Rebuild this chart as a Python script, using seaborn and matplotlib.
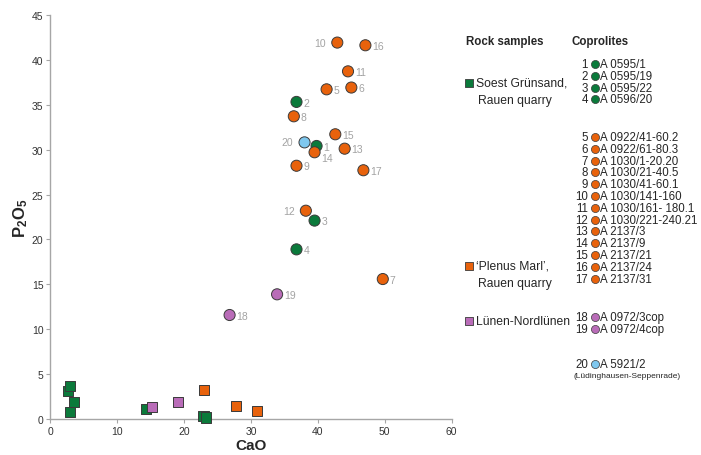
import matplotlib
matplotlib.use("Agg")
import matplotlib.pyplot as plt
import seaborn as sns
import pandas as pd

# ---------------- data ----------------
cop_ids = list(range(1, 21))
cop_cao = [39.8, 36.8, 39.5, 36.8, 41.3, 45.0, 49.7, 36.4, 36.8, 42.9,
           44.5, 38.2, 44.0, 39.5, 42.6, 47.1, 46.8, 26.8, 33.9, 38.0]
cop_p2o5 = [30.4, 35.3, 22.1, 18.9, 36.7, 36.9, 15.6, 33.7, 28.2, 41.9,
            38.7, 23.2, 30.1, 29.7, 31.7, 41.6, 27.7, 11.6, 13.9, 30.8]
cop_group = ["Soest"] * 4 + ["Plenus"] * 13 + ["Luenen"] * 2 + ["Luedinghausen"]
cop_names = ["A 0595/1", "A 0595/19", "A 0595/22", "A 0596/20",
             "A 0922/41-60.2", "A 0922/61-80.3", "A 1030/1-20.20", "A 1030/21-40.5",
             "A 1030/41-60.1", "A 1030/141-160", "A 1030/161- 180.1", "A 1030/221-240.21",
             "A 2137/3", "A 2137/9", "A 2137/21", "A 2137/24", "A 2137/31",
             "A 0972/3cop", "A 0972/4cop", "A 5921/2"]

rock_cao = [2.65, 2.9, 3.5, 3.0, 14.3, 22.9, 23.2, 15.2, 19.1, 23.0, 27.8, 30.9]
rock_p2o5 = [3.15, 3.7, 1.9, 0.85, 1.15, 0.4, 0.2, 1.4, 1.9, 3.25, 1.5, 0.95]
rock_group = ["Soest"] * 7 + ["Luenen"] * 2 + ["Plenus"] * 3

rock_legend = [("Soest", ["Soest Grünsand,", "Rauen quarry"]),
               ("Plenus", ["\u2018Plenus Marl\u2019,", "Rauen quarry"]),
               ("Luenen", ["Lünen-Nordlünen"])]

x_ticks = [0, 10, 20, 30, 40, 50, 60]
y_ticks = [0, 5, 10, 15, 20, 25, 30, 35, 40, 45]

palette = {"Soest": "#0b7a3b", "Plenus": "#e8620c",
           "Luenen": "#b96cb8", "Luedinghausen": "#7fc8ef"}
label_gray = "#a3a3a3"
axis_gray = "#a6a6a6"

cop_df = pd.DataFrame({"id": cop_ids, "CaO": cop_cao, "P2O5": cop_p2o5, "group": cop_group})
rock_df = pd.DataFrame({"CaO": rock_cao, "P2O5": rock_p2o5, "group": rock_group})

# ---------------- style ----------------
sns.set_style("ticks")
plt.rcParams["font.family"] = ["Liberation Sans", "DejaVu Sans"]
plt.rcParams["mathtext.fontset"] = "custom"
plt.rcParams["mathtext.bf"] = "Liberation Sans:bold"
plt.rcParams["mathtext.rm"] = "Liberation Sans"

fig = plt.figure(figsize=(7.01, 4.56), dpi=100)
W, H = 701, 456
ax = fig.add_axes([50.3 / W, 1 - 420.3 / H, (451.7 - 50.3) / W, (420.3 - 15.7) / H])

sns.scatterplot(data=rock_df, x="CaO", y="P2O5", hue="group", palette=palette,
                marker="s", s=52, edgecolor="#3a3a3a", linewidth=0.7,
                legend=False, ax=ax, zorder=3, clip_on=False)
sns.scatterplot(data=cop_df, x="CaO", y="P2O5", hue="group", palette=palette,
                marker="o", s=64, edgecolor="#3a3a3a", linewidth=0.7,
                legend=False, ax=ax, zorder=4, clip_on=False)

left_labels = {10, 12, 20}
for i, cx, cy in zip(cop_ids, cop_cao, cop_p2o5):
    if i in left_labels:
        ax.annotate(str(i), (cx, cy), xytext=(-8, 0), textcoords="offset points",
                    ha="right", va="center", fontsize=7.5, color=label_gray)
    elif i == 14:
        ax.annotate(str(i), (cx, cy), xytext=(5, -4), textcoords="offset points",
                    ha="left", va="center", fontsize=7.5, color=label_gray)
    else:
        ax.annotate(str(i), (cx, cy), xytext=(5, -0.5), textcoords="offset points",
                    ha="left", va="center", fontsize=7.5, color=label_gray)

ax.set_xlim(0, 60)
ax.set_ylim(0, 45)
ax.set_xticks(x_ticks)
ax.set_yticks(y_ticks)
ax.tick_params(axis="both", labelsize=7.5, colors="#333333", length=3,
               width=0.8, color=axis_gray, pad=2)
sns.despine(ax=ax)
for sp in ["left", "bottom"]:
    ax.spines[sp].set_color(axis_gray)
    ax.spines[sp].set_linewidth(1.0)
ax.set_xlabel("CaO", fontsize=11, fontweight="bold", labelpad=1)
ax.set_ylabel(r"$\mathbf{P_2O_5}$", fontsize=12, labelpad=1)

# ---------------- legend panel (pixel coordinates) ----------------
lax = fig.add_axes([0, 0, 1, 1], zorder=-1)
lax.set_xlim(0, W)
lax.set_ylim(H, 0)
lax.axis("off")

lax.text(466, 42, "Rock samples", fontsize=8.3, fontweight="bold", va="center", ha="left")
lax.text(572, 42, "Coprolites", fontsize=8.3, fontweight="bold", va="center", ha="left")

rock_rows_y = [84, 267, 322]
for (grp, lines), yy in zip(rock_legend, rock_rows_y):
    lax.scatter([469], [yy], marker="s", s=30, color=palette[grp],
                edgecolor="#3a3a3a", linewidth=0.6)
    for k, line in enumerate(lines):
        lax.text(476 + (2 if k else 0), yy + 17 * k, line, fontsize=8.7,
                 va="center", ha="left")

row_y = [65, 76.8, 88.6, 100.4,
         138 + 11.8 * 0, 138 + 11.8 * 1, 138 + 11.8 * 2, 138 + 11.8 * 3, 138 + 11.8 * 4,
         138 + 11.8 * 5, 138 + 11.8 * 6, 138 + 11.8 * 7, 138 + 11.8 * 8, 138 + 11.8 * 9,
         138 + 11.8 * 10, 138 + 11.8 * 11, 138 + 11.8 * 12,
         318, 329.8, 365]
for i, name, grp, yy in zip(cop_ids, cop_names, cop_group, row_y):
    lax.text(588, yy, str(i), fontsize=8.3, va="center", ha="right")
    lax.scatter([594.5], [yy], marker="o", s=34, color=palette[grp],
                edgecolor="#3a3a3a", linewidth=0.5)
    lax.text(600, yy, name, fontsize=8.3, va="center", ha="left")
lax.text(574, 377, "(Lüdinghausen-Seppenrade)", fontsize=6, va="center", ha="left")

fig.savefig("out.png", dpi=100)
